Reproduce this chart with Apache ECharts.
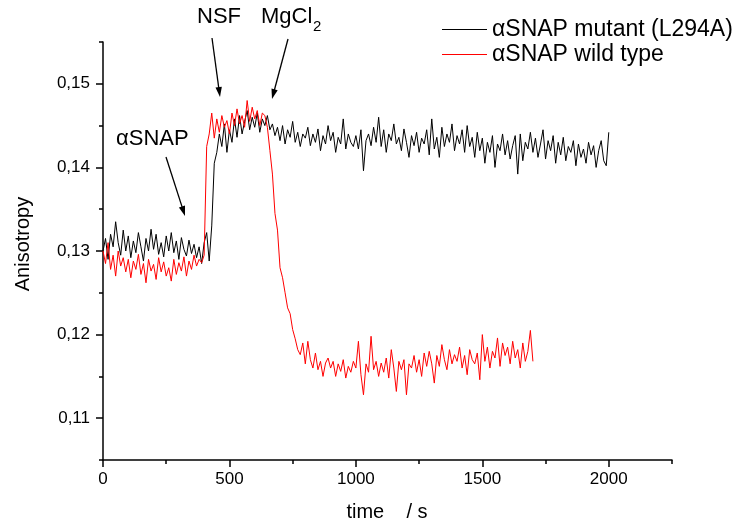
<!DOCTYPE html>
<html><head><meta charset="utf-8">
<script src="https://cdn.jsdelivr.net/npm/echarts@6/dist/echarts.min.js"></script>
<style>html,body{margin:0;padding:0;background:#fff}#c{width:733px;height:522px}</style>
</head><body><div id="c"></div>
<script>
const TIME_STEP = 10; // seconds between samples
const seriesNames = ['\u03b1SNAP mutant (L294A)', '\u03b1SNAP wild type'];
const xMajorTicks = [0, 500, 1000, 1500, 2000];
const yMajorTicks = [0.11, 0.12, 0.13, 0.14, 0.15];

const mutantValues = [
0.1300,0.1315,0.1290,0.1320,0.1305,0.1335,0.1310,0.1295,0.1325,0.1300,
0.1318,0.1292,0.1312,0.1298,0.1322,0.1305,0.1288,0.1315,0.1300,0.1326,
0.1302,0.1320,0.1296,0.1310,0.1293,0.1318,0.1300,0.1322,0.1298,0.1312,
0.1290,0.1316,0.1302,0.1294,0.1313,0.1297,0.1308,0.1292,0.1305,0.1285,
0.1310,0.1322,0.1288,0.1330,0.1405,0.1418,0.1440,0.1425,0.1452,0.1418,
0.1445,0.1430,0.1458,0.1436,0.1462,0.1440,0.1455,0.1468,0.1445,0.1460,
0.1448,0.1465,0.1442,0.1458,0.1450,0.1462,0.1445,0.1452,0.1438,0.1448,
0.1432,0.1450,0.1428,0.1445,0.1436,0.1455,0.1430,0.1442,0.1425,0.1440,
0.1435,0.1448,0.1426,0.1440,0.1430,0.1446,0.1420,0.1438,0.1428,0.1450,
0.1432,0.1442,0.1418,0.1436,0.1428,0.1458,0.1422,0.1440,0.1430,0.1425,
0.1438,0.1422,0.1445,0.1396,0.1432,0.1440,0.1426,0.1448,0.1430,0.1460,
0.1425,0.1445,0.1418,0.1440,0.1432,0.1452,0.1428,0.1436,0.1420,0.1446,
0.1430,0.1412,0.1438,0.1426,0.1442,0.1418,0.1435,0.1428,0.1445,0.1415,
0.1458,0.1422,0.1436,0.1412,0.1448,0.1425,0.1440,0.1430,0.1452,0.1420,
0.1438,0.1428,0.1445,0.1418,0.1450,0.1425,0.1436,0.1412,0.1442,0.1420,
0.1435,0.1405,0.1430,0.1418,0.1438,0.1400,0.1428,0.1420,0.1440,0.1415,
0.1432,0.1410,0.1426,0.1438,0.1392,0.1440,0.1408,0.1430,0.1422,0.1442,
0.1418,0.1435,0.1412,0.1428,0.1445,0.1410,0.1432,0.1420,0.1438,0.1405,
0.1430,0.1415,0.1436,0.1408,0.1425,0.1418,0.1432,0.1402,0.1428,0.1412,
0.1422,0.1405,0.1430,0.1415,0.1426,0.1400,0.1420,0.1432,0.1408,0.1402,
0.1442
];

const wildTypeValues = [
0.1300,0.1285,0.1310,0.1278,0.1295,0.1270,0.1300,0.1282,0.1292,0.1275,
0.1290,0.1268,0.1288,0.1278,0.1296,0.1272,0.1285,0.1262,0.1290,0.1276,
0.1284,0.1266,0.1292,0.1275,0.1287,0.1270,0.1280,0.1264,0.1290,0.1272,
0.1286,0.1276,0.1293,0.1270,0.1288,0.1278,0.1295,0.1282,0.1290,0.1286,
0.1295,0.1425,0.1440,0.1465,0.1435,0.1458,0.1442,0.1462,0.1448,0.1456,
0.1440,0.1465,0.1450,0.1470,0.1452,0.1462,0.1448,0.1480,0.1455,0.1472,
0.1458,0.1468,0.1450,0.1465,0.1462,0.1448,0.1420,0.1392,0.1345,0.1325,
0.1280,0.1268,0.1250,0.1232,0.1225,0.1206,0.1195,0.1182,0.1176,0.1190,
0.1165,0.1192,0.1170,0.1160,0.1178,0.1158,0.1168,0.1150,0.1166,0.1172,
0.1160,0.1168,0.1150,0.1165,0.1156,0.1170,0.1148,0.1162,0.1155,0.1168,
0.1160,0.1192,0.1152,0.1128,0.1165,0.1155,0.1198,0.1158,0.1168,0.1150,
0.1166,0.1155,0.1172,0.1148,0.1182,0.1160,0.1132,0.1168,0.1158,0.1170,
0.1128,0.1165,0.1160,0.1175,0.1155,0.1170,0.1150,0.1178,0.1162,0.1180,
0.1165,0.1142,0.1175,0.1162,0.1188,0.1170,0.1158,0.1182,0.1165,0.1176,
0.1168,0.1185,0.1160,0.1175,0.1152,0.1182,0.1170,0.1165,0.1178,0.1146,
0.1200,0.1168,0.1185,0.1160,0.1180,0.1172,0.1196,0.1162,0.1190,0.1175,
0.1185,0.1165,0.1192,0.1172,0.1182,0.1160,0.1190,0.1168,0.1180,0.1205,
0.1168
];

const FONT = '"Liberation Sans", Arial, Helvetica, sans-serif';
const chart = echarts.init(document.getElementById('c'), null, {renderer: 'canvas'});

function toPairs(vals) { return vals.map((v, i) => [i * TIME_STEP, v]); }

const axisLineStyle = {color: '#000', width: 1.5};

// arrows in pixel space (annotations)
const arrows = [
  {s: [212, 38], t: [220, 97]},
  {s: [288, 39], t: [272, 99]},
  {s: [166, 157], t: [185, 216]}
];
const graphics = [];
arrows.forEach(a => {
  const dx = a.t[0] - a.s[0], dy = a.t[1] - a.s[1];
  const L = Math.hypot(dx, dy), ux = dx / L, uy = dy / L;
  const hl = 10, hw = 3.2;
  const bx = a.t[0] - ux * hl, by = a.t[1] - uy * hl;
  graphics.push({type: 'line', shape: {x1: a.s[0], y1: a.s[1], x2: bx + ux * 2, y2: by + uy * 2}, style: {stroke: '#000', lineWidth: 1.3}, z: 100});
  graphics.push({type: 'polygon', shape: {points: [[a.t[0], a.t[1]], [bx - uy * hw, by + ux * hw], [bx + uy * hw, by - ux * hw]]}, style: {fill: '#000'}, z: 100});
});
graphics.push({type: 'text', left: 197, top: 6, style: {text: 'NSF', font: '22px ' + FONT, fill: '#000'}, z: 100});
graphics.push({type: 'text', left: 261, top: 6, style: {text: 'MgCl', font: '22px ' + FONT, fill: '#000'}, z: 100});
graphics.push({type: 'text', left: 313, top: 19, style: {text: '2', font: '15px ' + FONT, fill: '#000'}, z: 100});
graphics.push({type: 'text', left: 116, top: 128, style: {text: '\u03b1SNAP', font: '22px ' + FONT, fill: '#000'}, z: 100});
graphics.push({type: 'text', x: 387, y: 512, style: {text: 'time    / s', font: '20px ' + FONT, fill: '#000', align: 'center', verticalAlign: 'middle'}, z: 100});
graphics.push({type: 'text', x: 23, y: 244, rotation: Math.PI / 2, style: {text: 'Anisotropy', font: '20px ' + FONT, fill: '#000', align: 'center', verticalAlign: 'middle'}, z: 100});

const option = {
  animation: false,
  backgroundColor: '#fff',
  grid: {left: 103, right: 61, top: 42, bottom: 62},
  legend: {
    orient: 'vertical', left: 442, top: 17, padding: 0, itemWidth: 45, itemHeight: 14, itemGap: 0,
    icon: 'path://M0,0 L45,0 L45,1 L0,1 Z',
    textStyle: {fontFamily: FONT, fontSize: 23, color: '#000', lineHeight: 25},
    data: seriesNames
  },
  xAxis: [
    {type: 'value', min: 0, max: 2250, position: 'bottom',
     axisLine: {show: true, lineStyle: axisLineStyle},
     axisTick: {show: true, customValues: xMajorTicks, length: 7, lineStyle: {color: '#000', width: 1.5}},
     axisLabel: {customValues: xMajorTicks, margin: 11, fontFamily: FONT, fontSize: 17, color: '#000',
       formatter: v => String(v)},
     splitLine: {show: false}},
    {type: 'value', min: 0, max: 2250, interval: 250, position: 'bottom',
     axisLine: {show: false}, axisTick: {show: true, length: 4, lineStyle: {color: '#000', width: 1.5}},
     axisLabel: {show: false}, splitLine: {show: false}}
  ],
  yAxis: [
    {type: 'value', min: 0.105, max: 0.155, position: 'left',
     axisLine: {show: true, lineStyle: axisLineStyle},
     axisTick: {show: true, customValues: yMajorTicks, length: 7, lineStyle: {color: '#000', width: 1.5}},
     axisLabel: {customValues: yMajorTicks, margin: 13, fontFamily: FONT, fontSize: 17, color: '#000',
       formatter: v => v.toFixed(2).replace('.', ',')},
     splitLine: {show: false}},
    {type: 'value', min: 0.105, max: 0.155, interval: 0.005, position: 'left',
     axisLine: {show: false}, axisTick: {show: true, length: 4, lineStyle: {color: '#000', width: 1.5}},
     axisLabel: {show: false}, splitLine: {show: false}}
  ],
  series: [
    {name: seriesNames[0], type: 'line', data: toPairs(mutantValues), symbol: 'none',
     lineStyle: {color: '#000', width: 1}, itemStyle: {color: '#000'}, z: 2},
    {name: seriesNames[1], type: 'line', data: toPairs(wildTypeValues), symbol: 'none',
     lineStyle: {color: '#ff0000', width: 1}, itemStyle: {color: '#ff0000'}, z: 3}
  ],
  graphic: graphics
};
chart.setOption(option);
</script></body></html>
